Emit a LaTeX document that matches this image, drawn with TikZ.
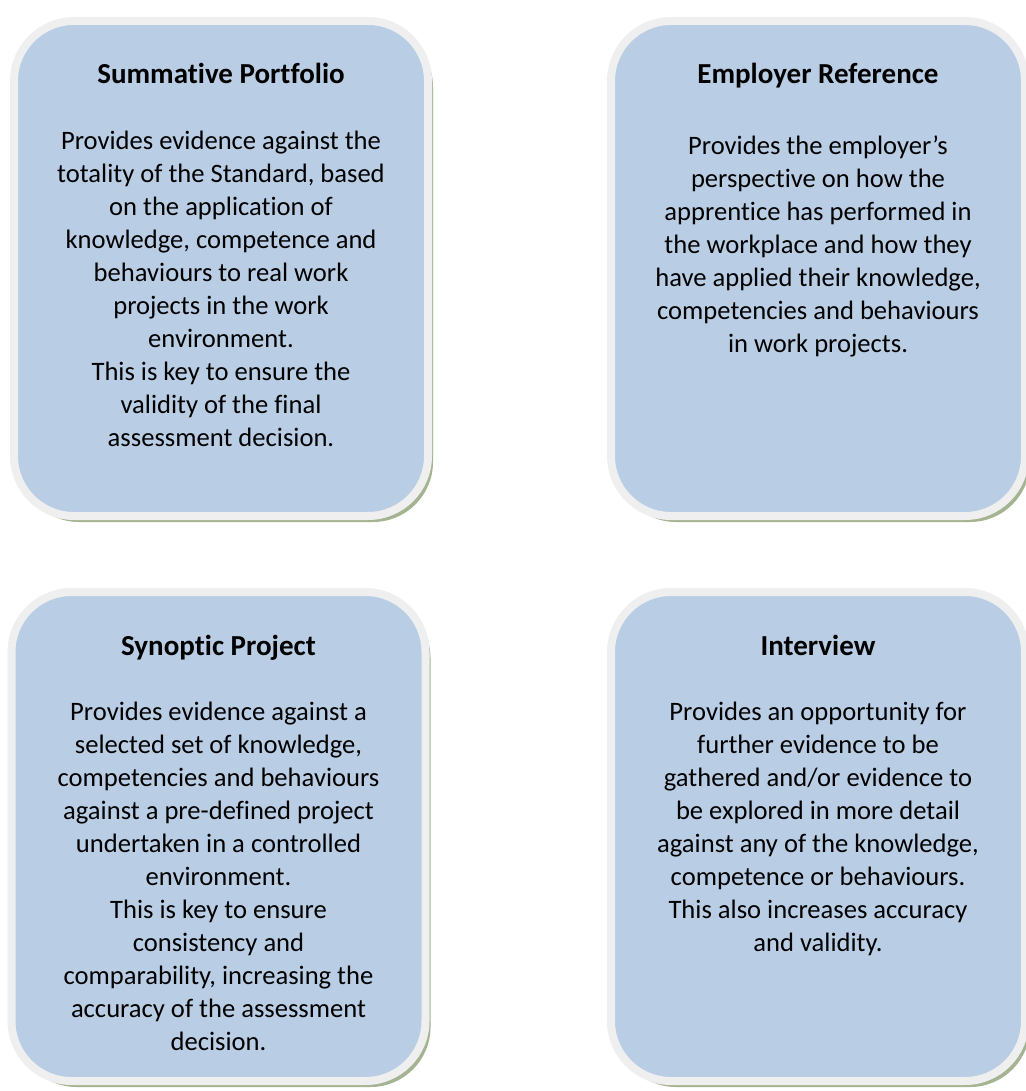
\documentclass[tikz,border=0pt]{standalone}
\usepackage{fontspec}
\setmainfont{Carlito}[Ligatures={NoCommon,NoRequired},Contextuals=NoAlternate]
\usetikzlibrary{shadows}
\definecolor{cardfill}{HTML}{B9CDE5}
\definecolor{cardline}{HTML}{EFEFEF}
\definecolor{cardshadow}{HTML}{A4B391}
\begin{document}
\begin{tikzpicture}[x=1pt,y=-1pt,
    card/.style={draw=cardline,fill=cardfill,line width=8pt,rectangle,rounded corners=60pt,
        minimum width=414pt,inner sep=0pt,
        drop shadow={shadow xshift=5pt,shadow yshift=-6pt,fill=cardshadow,opacity=1}},
    cardtitle/.style={font=\fontsize{29}{35}\selectfont\bfseries,inner sep=0pt,anchor=base},
    cardtext/.style={font=\fontsize{26.6}{33}\selectfont,align=center,inner sep=0pt,anchor=north}]
        \useasboundingbox (0,0) rectangle (1025,1091);
        %% Boxes
        \node[card,minimum height=495pt] (portfolio) at (221,268.5) {};
        \node[card,minimum height=495pt] (reference) at (818,268.5) {};
        \node[card,minimum height=489pt] (synoptic) at (218.5,836.5) {};
        \node[card,minimum height=489pt] (interview) at (818,836.5) {};
        %% Titles
        \node[cardtitle] (portfoliotitle) at ([yshift=-67pt]portfolio.north) {Summative Portfolio};
        \node[cardtitle] (referencetitle) at ([yshift=-67pt]reference.north) {Employer Reference};
        \node[cardtitle] (synoptictitle) at ([yshift=-67pt]synoptic.north) {Synoptic Project};
        \node[cardtitle] (interviewtitle) at ([yshift=-67pt]interview.north) {Interview};
        %% Texts
        \node[cardtext] (portfoliotext) at ([yshift=-114pt]portfolio.north) {Provides evidence against the\\totality of the Standard, based\\on the application of\\knowledge, competence and\\behaviours to real work\\projects in the work\\environment.\\This is key to ensure the\\validity of the final\\assessment decision.};
        \node[cardtext] (referencetext) at ([yshift=-119pt]reference.north) {Provides the employer’s\\perspective on how the\\apprentice has performed in\\the workplace and how they\\have applied their knowledge,\\competencies and behaviours\\in work projects.};
        \node[cardtext] (synoptictext) at ([yshift=-114pt]synoptic.north) {Provides evidence against a\\selected set of knowledge,\\competencies and behaviours\\against a pre-defined project\\undertaken in a controlled\\environment.\\This is key to ensure\\consistency and\\comparability, increasing the\\accuracy of the assessment\\decision.};
        \node[cardtext] (interviewtext) at ([yshift=-114pt]interview.north) {Provides an opportunity for\\further evidence to be\\gathered and/or evidence to\\be explored in more detail\\against any of the knowledge,\\competence or behaviours.\\This also increases accuracy\\and validity.};
    \end{tikzpicture}
\end{document}
